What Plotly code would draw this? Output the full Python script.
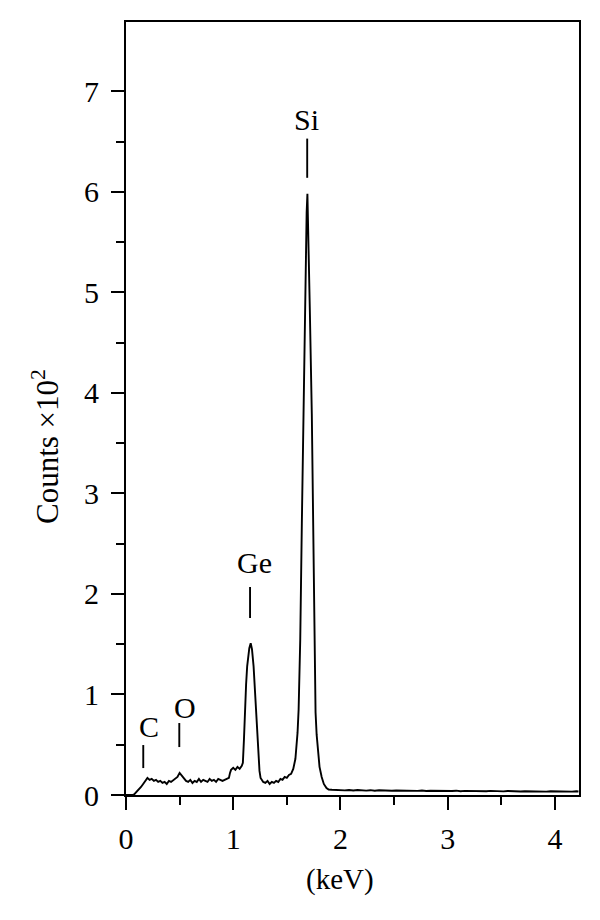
import plotly.graph_objects as go

# EDS spectrum (energy in keV, counts x10^2)
energy_keV = [
    0.00, 0.02, 0.04, 0.06, 0.08, 0.10, 0.12, 0.14, 0.16, 0.18, 0.20, 0.22, 0.24, 0.26, 0.28,
    0.30, 0.32, 0.34, 0.36, 0.38, 0.40, 0.42, 0.44, 0.46, 0.48, 0.50, 0.52, 0.54, 0.56, 0.58,
    0.60, 0.62, 0.64, 0.66, 0.68, 0.70, 0.72, 0.74, 0.76, 0.78, 0.80, 0.82, 0.84, 0.86, 0.88,
    0.90, 0.92, 0.94, 0.96, 0.97, 0.98, 1.00, 1.02, 1.04, 1.06, 1.08,
    1.09, 1.10, 1.11, 1.12, 1.13, 1.14, 1.15, 1.163, 1.175, 1.19, 1.20, 1.213, 1.225, 1.234,
    1.245, 1.255, 1.266, 1.28,
    1.30, 1.32, 1.34, 1.36, 1.38, 1.40, 1.42, 1.44, 1.46, 1.48, 1.50, 1.52, 1.54, 1.56, 1.58,
    1.59, 1.60, 1.61, 1.614, 1.625, 1.64, 1.654, 1.665, 1.675, 1.685, 1.692, 1.703, 1.715,
    1.733, 1.747, 1.757, 1.762, 1.768, 1.778, 1.79, 1.805, 1.825, 1.845, 1.87, 1.89,
    1.92, 1.96, 2.00, 2.04, 2.08, 2.12, 2.16, 2.20, 2.24, 2.28, 2.32, 2.36, 2.40, 2.44, 2.48,
    2.52, 2.56, 2.60, 2.64, 2.68, 2.72, 2.76, 2.80, 2.84, 2.88, 2.92, 2.96, 3.00, 3.04, 3.08,
    3.12, 3.16, 3.20, 3.24, 3.28, 3.32, 3.36, 3.40, 3.44, 3.48, 3.52, 3.56, 3.60, 3.64, 3.68,
    3.72, 3.76, 3.80, 3.84, 3.88, 3.92, 3.96, 4.00, 4.04, 4.08, 4.12, 4.16, 4.20, 4.22,
]
counts_x100 = [
    0.00, 0.00, 0.00, 0.00, 0.01, 0.03, 0.05, 0.08, 0.11, 0.14, 0.17, 0.15, 0.16, 0.14, 0.15,
    0.13, 0.14, 0.12, 0.13, 0.11, 0.14, 0.13, 0.15, 0.16, 0.18, 0.22, 0.19, 0.16, 0.14, 0.13,
    0.15, 0.12, 0.14, 0.13, 0.16, 0.13, 0.15, 0.14, 0.13, 0.16, 0.14, 0.15, 0.13, 0.16, 0.15,
    0.14, 0.15, 0.16, 0.17, 0.22, 0.25, 0.27, 0.25, 0.28, 0.26, 0.29,
    0.32, 0.55, 0.90, 1.10, 1.28, 1.38, 1.46, 1.51, 1.45, 1.28, 1.08, 0.78, 0.55, 0.38,
    0.24, 0.17, 0.15, 0.13,
    0.12, 0.14, 0.11, 0.13, 0.12, 0.14, 0.13, 0.16, 0.15, 0.18, 0.17, 0.20, 0.21, 0.26, 0.36,
    0.48, 0.62, 0.85, 1.04, 1.54, 2.70, 3.79, 4.60, 5.30, 5.80, 5.98, 5.50, 4.80,
    3.79, 2.60, 1.54, 1.10, 0.82, 0.60, 0.42, 0.28, 0.18, 0.11, 0.07, 0.055,
    0.052, 0.048, 0.050, 0.046, 0.049, 0.045, 0.050, 0.046, 0.044, 0.048, 0.043, 0.047, 0.044, 0.046, 0.042,
    0.045, 0.043, 0.047, 0.042, 0.044, 0.041, 0.045, 0.040, 0.043, 0.041, 0.044, 0.039, 0.042, 0.040, 0.043,
    0.038, 0.041, 0.039, 0.042, 0.037, 0.040, 0.038, 0.041, 0.037, 0.039, 0.036, 0.040, 0.037, 0.039, 0.035,
    0.038, 0.036, 0.039, 0.035, 0.037, 0.034, 0.037, 0.035, 0.038, 0.034, 0.036, 0.034, 0.037, 0.035,
]

x_tick_vals = [0, 1, 2, 3, 4]
x_minor_vals = [0.5, 1.5, 2.5, 3.5]
y_tick_vals = [0, 1, 2, 3, 4, 5, 6, 7]
y_minor_vals = [0.5, 1.5, 2.5, 3.5, 4.5, 5.5, 6.5]

# Peak labels and the energies of their marker lines
peak_names = ["C", "O", "Ge", "Si"]
peak_energy = [0.161, 0.497, 1.157, 1.690]

FONT = "Liberation Serif, Times New Roman, serif"

# page geometry (the page body has an 8 px margin)
W, H = 592, 912
ML, MR, MT, MB = 118, 21, 14, 125
PX0, PX1, PY0, PY1 = 126, 579, 22, 795   # plot box in window pixels
pw, ph = PX1 - PX0, PY1 - PY0


def paper_x(px):
    return (px - PX0) / pw


def paper_y(py):
    return (PY1 - py) / ph


LW = 1.9

fig = go.Figure()
fig.add_trace(go.Scatter(x=energy_keV, y=counts_x100, mode="lines",
                         line=dict(color="black", width=LW), showlegend=False,
                         hoverinfo="skip"))

label_text_xy = {"C": (0.215, 0.68), "O": (0.550, 0.875), "Ge": (1.194, 2.31), "Si": (1.688, 6.72)}
label_line_y = {"C": (0.268, 0.497), "O": (0.477, 0.716), "Ge": (1.76, 2.068), "Si": (6.14, 6.53)}

for name, e in zip(peak_names, peak_energy):
    tx, ty = label_text_xy[name]
    fig.add_annotation(x=tx, y=ty, xref="x", yref="y", text=name, showarrow=False,
                       font=dict(family=FONT, size=30, color="black"),
                       xanchor="center", yanchor="middle")
    y0, y1 = label_line_y[name]
    fig.add_shape(type="line", x0=e, x1=e, y0=y0, y1=y1, xref="x", yref="y",
                  line=dict(color="black", width=LW))

fig.add_annotation(x=paper_x(45), y=paper_y(447), xref="paper", yref="paper",
                   text="Counts ×10<sup>2</sup>", showarrow=False, textangle=-90,
                   xanchor="center", yanchor="middle",
                   font=dict(family=FONT, size=31, color="black"))
fig.add_annotation(x=paper_x(340), y=paper_y(880), xref="paper", yref="paper",
                   text="(keV)", showarrow=False, xanchor="center", yanchor="middle",
                   font=dict(family=FONT, size=29, color="black"))

fig.update_layout(
    width=W, height=H,
    margin=dict(l=ML, r=MR, t=MT, b=MB),
    paper_bgcolor="white", plot_bgcolor="white",
    font=dict(family=FONT, size=30, color="black"),
    xaxis=dict(range=[0, 4.225], tickmode="array", tickvals=x_tick_vals,
               ticks="outside", ticklen=13, tickwidth=LW, tickcolor="black",
               minor=dict(tickvals=x_minor_vals, ticks="outside", ticklen=8,
                          tickwidth=LW, tickcolor="black"),
               showline=True, linewidth=2, linecolor="black", mirror=True,
               showgrid=False, zeroline=False, ticklabelstandoff=3,
               tickfont=dict(family=FONT, size=30)),
    yaxis=dict(range=[0, 7.69], tickmode="array", tickvals=y_tick_vals,
               ticks="outside", ticklen=13, tickwidth=LW, tickcolor="black",
               minor=dict(tickvals=y_minor_vals, ticks="outside",
                          ticklen=8, tickwidth=LW, tickcolor="black"),
               showline=True, linewidth=2, linecolor="black", mirror=True,
               showgrid=False, zeroline=False, ticklabelstandoff=6,
               tickfont=dict(family=FONT, size=30)),
)

fig.write_html("out.html")
